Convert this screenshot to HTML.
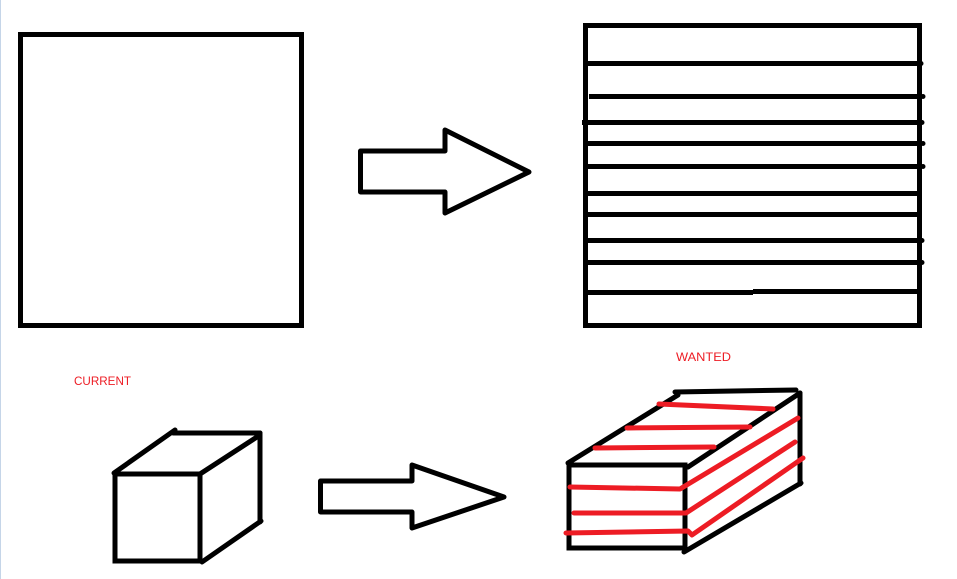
<!DOCTYPE html>
<html>
<head>
<meta charset="utf-8">
<style>
html,body{margin:0;padding:0;background:#fff;width:957px;height:579px;overflow:hidden}
svg{display:block}
text{font-family:"Liberation Sans",sans-serif;font-size:11.5px;fill:#ed1c24}
</style>
</head>
<body>
<svg width="957" height="579" viewBox="0 0 957 579" xmlns="http://www.w3.org/2000/svg">
<rect width="957" height="579" fill="#fff"/>
<rect x="0" y="0" width="1" height="579" fill="#c5d5e8"/>
<g fill="none" stroke="#000" stroke-width="5">
<rect x="20.5" y="34.5" width="281" height="291"/>
<rect x="585.5" y="25.5" width="334" height="300"/>
<g stroke-linecap="butt">
<path d="M586 63.5H920"/>
<path d="M589 96.5H920"/>
<path d="M582 122.5H920"/>
<path d="M586 143.5H920"/>
<path d="M586 166.5H920"/>
<path d="M586 193.5H919"/>
<path d="M586 214.5H919"/>
<path d="M586 240.5H920"/>
<path d="M586 262.5H920"/>
<path d="M586 292.5H753M753 291.5H919"/>
</g>
<g stroke-linejoin="round" stroke-linecap="round">
<path d="M360.5 151H445V130L529 172L445 213V192H360.5Z"/>
<path d="M320.5 481H412V465L504 497L412 528V512H320.5Z"/>
</g>
<g stroke-linecap="round" stroke-linejoin="round">
<rect x="115" y="474" width="85" height="87" stroke-linejoin="miter"/>
<path d="M114 473L175 430"/>
<path d="M173 433H260"/>
<path d="M200 474L260 435"/>
<path d="M260 433V522"/>
<path d="M261 521L202 562"/>
</g>
<g stroke-linecap="round" stroke-linejoin="round">
<rect x="569" y="465" width="116" height="83" stroke-linejoin="miter"/>
<path d="M568 463L678 395"/>
<path d="M675 392L796 390"/>
<path d="M688 467L800 393"/>
<path d="M800 393V484"/>
<path d="M801 483L684 552"/>
</g>
</g>
<g fill="#000">
<circle cx="921" cy="63.5" r="2.5"/>
<circle cx="923" cy="96.5" r="2.5"/>
<circle cx="922" cy="122.5" r="2.5"/>
<circle cx="923" cy="143.5" r="2.5"/>
<circle cx="923" cy="166.5" r="2.5"/>
<circle cx="922" cy="240.5" r="2.5"/>
<circle cx="922" cy="262.5" r="2.5"/>
</g>
<g fill="none" stroke="#ed1c24" stroke-width="5" stroke-linecap="round" stroke-linejoin="round">
<path d="M659 404L773 409"/>
<path d="M627 428L750 427"/>
<path d="M595 448L714 447"/>
<path d="M570 487L680 489L798 418"/>
<path d="M574 513L686 513L795 442"/>
<path d="M566 533L688 531L692 535L803 458"/>
</g>
<text x="74" y="385" textLength="57" lengthAdjust="spacingAndGlyphs">CURRENT</text>
<text x="676" y="361" textLength="55" lengthAdjust="spacingAndGlyphs">WANTED</text>
</svg>
</body>
</html>
